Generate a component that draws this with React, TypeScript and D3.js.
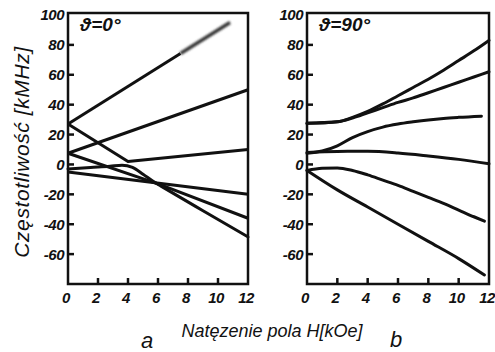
import React from 'react'
import * as d3 from 'd3'

const width = 495
const height = 352

const xTicks = [0, 2, 4, 6, 8, 10, 12]
const yTicks = [-60, -40, -20, 0, 20, 40, 60, 80, 100]

// panel a: theta = 0 deg  [H kOe, f kMHz]
const a1 = [[0, 27], [7.5, 74.2]]
const a1Faded = [[7.5, 74.2], [10.8, 95]]
const a2 = [[0, 7.5], [12, 50]]
const a3 = [[0, 27], [4, 2], [12, 10]]
const a4 = [[0, -5], [12, -20]]
const a5 = [[0, 7.5], [6.1, -13.3], [12, -36]]
const a6 = [[0, -3], [1.5, -2], [2.8, -1.2], [3.6, -0.5], [4.3, -2], [5, -6.5], [5.7, -11.5], [6.2, -14.5], [9, -31], [12, -48.5]]

// panel b: theta = 90 deg
const b1 = [[0, 27.5], [2, 28.5], [3, 31.5], [4, 35.5], [5, 40.5], [6, 46], [7, 51.5], [8, 57], [9, 63], [10, 69.5], [11, 76], [12, 83]]
const b2 = [[0, 27.5], [2, 28.5], [3, 31], [4, 34.5], [5, 38], [6, 41.5], [7, 44.5], [8, 48], [9, 51.5], [10, 55], [11, 58.5], [12, 62]]
const b3 = [[0, 7.5], [1, 9], [2, 12.5], [3, 18], [4, 22], [5, 25], [6, 27], [7, 28.5], [8, 29.8], [9, 30.8], [10, 31.5], [11.5, 32.3]]
const b4 = [[0, 8], [2, 8.7], [4, 8.8], [6, 7.7], [8, 5.7], [10, 3.4], [12, 0.5]]
const b5 = [[0, -4], [1, -2.5], [2, -2.3], [3, -4], [4, -7], [5, -10.5], [6, -14], [7, -18], [8, -22], [9, -26], [10, -30.5], [11, -35], [11.7, -38]]
const b6 = [[0, -4], [2, -17], [4, -28.5], [6, -40], [8, -51.5], [10, -63], [11.7, -74]]

const font = '"Liberation Sans", Arial, sans-serif'

const y = d3.scaleLinear().domain([-80, 100]).range([284, 15])
const yTop = 13

function Panel ({ x, series, straight, faded, title }) {
  const [x0, x1] = x.range()
  const smooth = d3.line().x(d => x(d[0])).y(d => y(d[1])).curve(d3.curveMonotoneX)
  const linear = d3.line().x(d => x(d[0])).y(d => y(d[1]))
  return (
    <g>
      {/* frame */}
      <rect x={x0} y={yTop} width={x1 - x0} height={y(-80) - yTop} fill='none' stroke='#111' strokeWidth={2.5} />
      {/* y ticks, pointing in */}
      {yTicks.filter(t => t < 100).map(t => (
        <line key={t} x1={x0} x2={x0 + 6} y1={y(t)} y2={y(t)} stroke='#111' strokeWidth={2.5} />
      ))}
      {yTicks.map(t => (
        <text key={t} x={x0 - 4} y={y(t)} dy='0.36em' textAnchor='end' fontSize={15} fontWeight='bold' fontStyle='italic' fontFamily={font} fill='#111' letterSpacing={-0.5}>{t}</text>
      ))}
      {/* x ticks */}
      {xTicks.slice(1, -1).map(t => (
        <line key={t} x1={x(t)} x2={x(t)} y1={y(-80)} y2={y(-80) - 6} stroke='#111' strokeWidth={2.5} />
      ))}
      {xTicks.map(t => (
        <text key={t} x={x(t) - 2} y={y(-80) + 19} textAnchor='middle' fontSize={15} fontWeight='bold' fontStyle='italic' fontFamily={font} fill='#111' letterSpacing={-0.5}>{t}</text>
      ))}
      {straight.map((s, i) => (
        <path key={'l' + i} d={linear(s)} fill='none' stroke='#111' strokeWidth={3} strokeLinejoin='round' />
      ))}
      {series.map((s, i) => (
        <path key={'s' + i} d={smooth(s)} fill='none' stroke='#111' strokeWidth={3} strokeLinecap='round' />
      ))}
      {faded && (
        <path d={linear(faded)} fill='none' stroke='#333' strokeWidth={3.5} filter='url(#soft)' />
      )}
      <text x={x0 + 12} y={31} fontSize={19} fontWeight='bold' fontStyle='italic' fontFamily={font} fill='#111'>{title}</text>
    </g>
  )
}

export default function App () {
  const xA = d3.scaleLinear().domain([0, 12]).range([68, 248])
  const xB = d3.scaleLinear().domain([0, 12]).range([307, 489])
  return (
    <svg width={width} height={height} style={{ position: 'absolute', left: 0, top: 0, background: '#fff' }}>
      <defs>
        <filter id='soft' x='-20%' y='-20%' width='140%' height='140%'>
          <feGaussianBlur stdDeviation='1.3' />
        </filter>
      </defs>
      <Panel x={xA} straight={[a1, a2, a3, a4, a5]} series={[a6]} faded={a1Faded} title='ϑ=0°' />
      <Panel x={xB} straight={[]} series={[b1, b2, b3, b4, b5, b6]} title='ϑ=90°' />
      <text transform={`translate(29,${152}) rotate(-90)`} textAnchor='middle' fontSize={21} fontStyle='italic' fontFamily={font} fill='#111' letterSpacing={0.6}>Częstotliwość [kMHz]</text>
      <text x={272} y={337} textAnchor='middle' fontSize={18} fontStyle='italic' fontFamily={font} fill='#111'>Natęzenie pola  H[kOe]</text>
      <text x={147} y={348} textAnchor='middle' fontSize={22} fontStyle='italic' fontFamily={font} fill='#111'>a</text>
      <text x={396} y={347} textAnchor='middle' fontSize={22} fontStyle='italic' fontFamily={font} fill='#111'>b</text>
    </svg>
  )
}
